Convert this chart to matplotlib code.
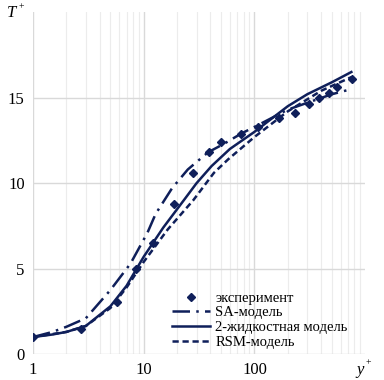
import matplotlib
matplotlib.use("Agg")
import matplotlib.pyplot as plt
from matplotlib.ticker import FixedLocator, NullFormatter

plt.rcParams['font.family'] = ['Liberation Serif', 'DejaVu Serif']

# experiment points
exp_x = [1, 2.7, 5.7, 8.5, 12, 18.7, 28, 39, 50, 76, 108, 165, 230, 310, 380, 470, 560, 760]
exp_t = [1.0, 1.46, 3.05, 5.0, 6.5, 8.8, 10.6, 11.8, 12.4, 12.9, 13.3, 13.8, 14.1, 14.6, 15.0, 15.3, 15.6, 16.1]

# SA model
sa_x = [1, 1.5, 2, 3, 5, 7.6, 10.8, 12.8, 18, 25, 38, 53, 76, 108, 200, 300, 500, 750]
sa_t = [1.0, 1.3, 1.6, 2.1, 3.75, 5.3, 7.1, 8.2, 9.7, 10.8, 11.8, 12.3, 12.9, 13.4, 14.3, 14.7, 15.2, 15.5]

# two-fluid model
tf_x = [1, 1.5, 2, 3, 5, 7, 10, 15, 23, 30, 41, 60, 100, 200, 300, 500, 750]
tf_t = [1.0, 1.15, 1.3, 1.65, 2.8, 4.0, 5.7, 7.4, 9.0, 10.0, 11.0, 12.0, 13.0, 14.5, 15.2, 15.9, 16.5]

# RSM model
rsm_x = [1, 2, 3, 5, 7, 10, 16.5, 28, 43, 58, 100, 200, 400, 750]
rsm_t = [1.0, 1.3, 1.65, 2.7, 3.9, 5.4, 7.3, 9.0, 10.6, 11.4, 12.7, 14.2, 15.4, 16.2]

c = '#0f1f5a'

fig = plt.figure(figsize=(3.84, 3.80), dpi=100)
ax = fig.add_axes([0.086, 0.068, 0.865, 0.90])

ax.plot(exp_x, exp_t, 'D', color=c, markersize=4, label='эксперимент')
ax.plot(sa_x, sa_t, color=c, lw=1.8, dashes=(7, 2.5, 1, 2.5), label='SA-модель')
ax.plot(tf_x, tf_t, color=c, lw=1.8, label='2-жидкостная модель')
ax.plot(rsm_x, rsm_t, color=c, lw=1.8, dashes=(2.5, 1.5), label='RSM-модель')

ax.set_xscale('log')
ax.set_xlim(1, 1000)
ax.set_ylim(0, 20)
ax.xaxis.set_major_locator(FixedLocator([1, 10, 100]))
ax.set_xticklabels(['1', '10', '100'])
ax.xaxis.set_minor_formatter(NullFormatter())
ax.set_yticks([0, 5, 10, 15])
ax.grid(True, which='major', color='#d9d9d9', lw=1)
ax.grid(True, which='minor', axis='x', color='#ececec', lw=0.8)
ax.set_axisbelow(True)
for s in ax.spines.values():
    s.set_visible(False)
ax.tick_params(which='both', length=0, labelsize=12, pad=6)

fig.text(0.03, 0.965, 'T', style='italic', fontsize=12, ha='center', va='center')
fig.text(0.056, 0.982, '+', fontsize=7, ha='center', va='center')
fig.text(0.937, 0.027, 'y', style='italic', fontsize=12, ha='center', va='center')
fig.text(0.958, 0.045, '+', fontsize=7, ha='center', va='center')

ax.legend(loc='upper left', bbox_to_anchor=(0.40, 0.20), frameon=False, fontsize=10.5,
          labelspacing=0.1, handlelength=2.6, handletextpad=0.4, borderaxespad=0)

fig.savefig('out.png', dpi=100)
